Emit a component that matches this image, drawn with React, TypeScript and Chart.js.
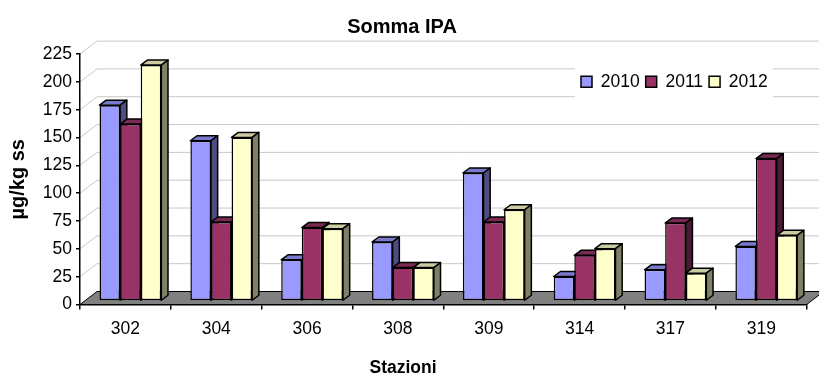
import React, { useEffect, useRef } from "react";
import { Chart, registerables } from "chart.js";

Chart.register(...registerables);

const stations = ["302", "304", "306", "308", "309", "314", "317", "319"];
const years = ["2010", "2011", "2012"];
const values2010 = [176, 144, 37, 53, 115, 22, 28, 49];
const values2011 = [159, 71, 66, 30, 71, 41, 70, 128];
const values2012 = [212, 147, 65, 30, 82, 47, 25, 59];
const frontColors = ["#9999FF", "#993366", "#FFFFCC"];
const topColors = ["#7A7ACC", "#7A2952", "#CCCCA3"];
const sideColors = ["#4D4D80", "#4D1A33", "#808066"];

const FONT = "'Liberation Sans', Arial, sans-serif";
const WALL_DX = 17;
const WALL_DY = 13;
const BAR_DX = 5;
const BAR_DY = 3.5;
const DEPTH_X = 6.7;
const DEPTH_Y = 5;

const threeD = {
  id: "threeD",
  beforeDraw(chart: any) {
    const { ctx, chartArea, scales } = chart;
    const { left, right, bottom } = chartArea;
    ctx.save();
    ctx.strokeStyle = "#C8C8C8";
    ctx.lineWidth = 1;
    scales.y.ticks.forEach((t: any) => {
      const y = scales.y.getPixelForValue(t.value);
      if (t.value === 0) return;
      ctx.beginPath();
      ctx.moveTo(left, y);
      ctx.lineTo(left + WALL_DX, y - WALL_DY);
      ctx.lineTo(right + WALL_DX, y - WALL_DY);
      ctx.stroke();
    });
    ctx.fillStyle = "#FFFFFF";
    ctx.fillRect(575, 50, 198, 60);
    ctx.fillStyle = "#808080";
    ctx.strokeStyle = "#000000";
    ctx.lineWidth = 1;
    ctx.beginPath();
    ctx.moveTo(left, bottom);
    ctx.lineTo(left + WALL_DX, bottom - WALL_DY);
    ctx.lineTo(right + WALL_DX, bottom - WALL_DY);
    ctx.lineTo(right, bottom);
    ctx.closePath();
    ctx.fill();
    ctx.stroke();
    ctx.restore();
  },
  afterLayout(chart: any) {
    const lg = chart.legend;
    lg.left = 575;
    lg.right = 800;
    lg.top = 67;
    lg.bottom = 101;
    const tb = chart.titleBlock;
    tb.left = 0;
    tb.right = 804;
    tb.top = 17;
    tb.bottom = 37;
    const xs = chart.scales.x;
    if (!xs._shifted) {
      xs._shifted = true;
      const orig = xs.drawTitle;
      xs.drawTitle = function () {
        const l = this.left;
        const r = this.right;
        this.left = 0;
        this.right = 806;
        orig.call(this);
        this.left = l;
        this.right = r;
      };
    }
  },
  beforeDatasetsDraw(chart: any) {
    const { ctx } = chart;
    ctx.save();
    ctx.translate(BAR_DX, -BAR_DY);
    ctx.strokeStyle = "#000000";
    ctx.lineWidth = 1.5;
    ctx.lineJoin = "round";
    chart.data.datasets.forEach((_: any, i: number) => {
      chart.getDatasetMeta(i).data.forEach((bar: any) => {
        const l = bar.x - bar.width / 2;
        const r = bar.x + bar.width / 2;
        const t = bar.y;
        const b = bar.base;
        ctx.fillStyle = topColors[i];
        ctx.beginPath();
        ctx.moveTo(l, t);
        ctx.lineTo(l + DEPTH_X, t - DEPTH_Y);
        ctx.lineTo(r + DEPTH_X, t - DEPTH_Y);
        ctx.lineTo(r, t);
        ctx.closePath();
        ctx.fill();
        ctx.stroke();
        ctx.fillStyle = sideColors[i];
        ctx.beginPath();
        ctx.moveTo(r, t);
        ctx.lineTo(r + DEPTH_X, t - DEPTH_Y);
        ctx.lineTo(r + DEPTH_X, b - DEPTH_Y);
        ctx.lineTo(r, b);
        ctx.closePath();
        ctx.fill();
        ctx.stroke();
        bar.draw(ctx);
      });
    });
    ctx.restore();
    return false;
  },
};

export default function App() {
  const ref = useRef<HTMLCanvasElement>(null);
  useEffect(() => {
    document.body.style.margin = "0";
    const series = [values2010, values2011, values2012];
    const chart = new Chart(ref.current!, {
      type: "bar",
      data: {
        labels: stations,
        datasets: years.map((y, i) => ({
          label: y,
          data: series[i],
          backgroundColor: frontColors[i],
          borderColor: "#000000",
          borderWidth: 1.5,
          borderSkipped: false,
          categoryPercentage: 0.68,
          barPercentage: 1,
        })),
      },
      options: {
        responsive: false,
        animation: false,
        layout: { padding: { left: 0, right: 12.3, top: 0.6, bottom: -1.5 } },
        plugins: {
          tooltip: { enabled: false },
          title: {
            display: true,
            text: "Somma IPA",
            color: "#000",
            font: { family: FONT, size: 20, weight: "bold", lineHeight: 1 },
            padding: { top: 0, bottom: 0 },
          },
          legend: {
            display: true,
            position: "top",
            align: "start",
            labels: {
              boxWidth: 11,
              boxHeight: 11,
              padding: 6,
              color: "#000",
              font: { family: FONT, size: 17.5 },
            },
          },
        },
        scales: {
          x: {
            afterFit(s: any) {
              s.height = 73;
            },
            grid: { drawOnChartArea: false, drawTicks: true, tickLength: 5, color: "#000", lineWidth: 1.5 },
            border: { color: "#000", width: 1.5 },
            ticks: { color: "#000", padding: 9.5, maxRotation: 0, font: { family: FONT, size: 17.5 } },
            title: {
              display: true,
              text: "Stazioni",
              color: "#000",
              font: { family: FONT, size: 17.5, weight: "bold" },
              padding: { top: 0, bottom: -1.5 },
            },
          },
          y: {
            min: 0,
            max: 225,
            afterFit(s: any) {
              s.width = 80;
            },
            grid: { drawOnChartArea: false, drawTicks: true, tickLength: 4, color: "#000", lineWidth: 1.5 },
            border: { color: "#000", width: 1.5 },
            ticks: { stepSize: 25, color: "#000", padding: 4, font: { family: FONT, size: 17.5 } },
            title: {
              display: true,
              text: "µg/kg ss",
              color: "#000",
              font: { family: FONT, size: 20, weight: "bold" },
              padding: { top: 6, bottom: 0 },
            },
          },
        },
      },
      plugins: [threeD],
    } as any);
    return () => chart.destroy();
  }, []);
  return <canvas ref={ref} width={819} height={376} style={{ display: "block" }} />;
}
